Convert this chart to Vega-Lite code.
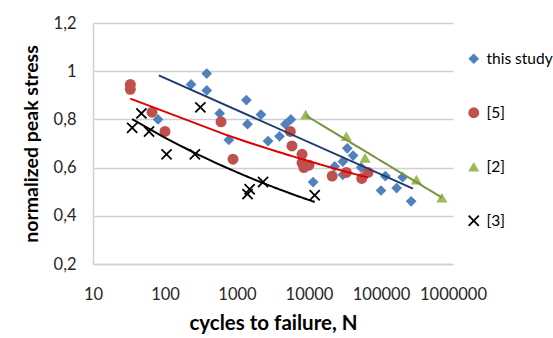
{
  "$schema": "https://vega.github.io/schema/vega-lite/v6.json",
  "width": 360,
  "height": 241,
  "autosize": {"type": "none"},
  "padding": {"left": 93, "top": 23, "right": 100, "bottom": 74},
  "background": "white",
  "config": {
    "font": "Lato",
    "view": {"stroke": null},
    "axis": {"labelFont": "Lato", "titleFont": "Lato", "labelColor": "#262626", "titleColor": "#000000"},
    "legend": {"labelFont": "Lato"}
  },
  "datasets": {
    "pts": [
      {"s": "this study", "N": 80, "v": 0.80},
      {"s": "this study", "N": 230, "v": 0.945},
      {"s": "this study", "N": 380, "v": 0.99},
      {"s": "this study", "N": 380, "v": 0.92},
      {"s": "this study", "N": 575, "v": 0.825},
      {"s": "this study", "N": 770, "v": 0.715},
      {"s": "this study", "N": 1350, "v": 0.88},
      {"s": "this study", "N": 1400, "v": 0.78},
      {"s": "this study", "N": 2150, "v": 0.82},
      {"s": "this study", "N": 2700, "v": 0.71},
      {"s": "this study", "N": 3900, "v": 0.73},
      {"s": "this study", "N": 4700, "v": 0.78},
      {"s": "this study", "N": 5600, "v": 0.80},
      {"s": "this study", "N": 11400, "v": 0.54},
      {"s": "this study", "N": 22700, "v": 0.605},
      {"s": "this study", "N": 29500, "v": 0.625},
      {"s": "this study", "N": 29500, "v": 0.57},
      {"s": "this study", "N": 34000, "v": 0.68},
      {"s": "this study", "N": 41000, "v": 0.65},
      {"s": "this study", "N": 53000, "v": 0.60},
      {"s": "this study", "N": 100000, "v": 0.505},
      {"s": "this study", "N": 115000, "v": 0.565},
      {"s": "this study", "N": 165000, "v": 0.515},
      {"s": "this study", "N": 200000, "v": 0.56},
      {"s": "this study", "N": 262000, "v": 0.46},
      {"s": "[5]", "N": 33, "v": 0.945},
      {"s": "[5]", "N": 33, "v": 0.925},
      {"s": "[5]", "N": 66, "v": 0.83},
      {"s": "[5]", "N": 100, "v": 0.75},
      {"s": "[5]", "N": 600, "v": 0.79},
      {"s": "[5]", "N": 880, "v": 0.635},
      {"s": "[5]", "N": 5500, "v": 0.75},
      {"s": "[5]", "N": 5800, "v": 0.69},
      {"s": "[5]", "N": 8000, "v": 0.655},
      {"s": "[5]", "N": 8000, "v": 0.62},
      {"s": "[5]", "N": 8500, "v": 0.60},
      {"s": "[5]", "N": 10000, "v": 0.61},
      {"s": "[5]", "N": 21000, "v": 0.565},
      {"s": "[5]", "N": 33000, "v": 0.58},
      {"s": "[5]", "N": 54000, "v": 0.555},
      {"s": "[5]", "N": 66000, "v": 0.58},
      {"s": "[2]", "N": 9000, "v": 0.82},
      {"s": "[2]", "N": 33000, "v": 0.73},
      {"s": "[2]", "N": 60000, "v": 0.64},
      {"s": "[2]", "N": 310000, "v": 0.55},
      {"s": "[2]", "N": 700000, "v": 0.475},
      {"s": "[3]", "N": 35, "v": 0.765},
      {"s": "[3]", "N": 47, "v": 0.825},
      {"s": "[3]", "N": 60, "v": 0.75},
      {"s": "[3]", "N": 105, "v": 0.655},
      {"s": "[3]", "N": 260, "v": 0.655},
      {"s": "[3]", "N": 310, "v": 0.85},
      {"s": "[3]", "N": 1400, "v": 0.49},
      {"s": "[3]", "N": 1500, "v": 0.51},
      {"s": "[3]", "N": 2300, "v": 0.54},
      {"s": "[3]", "N": 12000, "v": 0.485}
    ],
    "blueTrend": [
      {"N": 82, "v": 0.983},
      {"N": 278000, "v": 0.513}
    ]
  },
  "data": {"name": "pts"},
  "layer": [
    {
      "mark": {"type": "point", "filled": true, "opacity": 1},
      "encoding": {
        "x": {
          "field": "N", "type": "quantitative",
          "scale": {"type": "log", "domain": [10, 1000000]},
          "axis": {
            "values": [10, 100, 1000, 10000, 100000, 1000000],
            "labelExpr": "format(datum.value, 'd')",
            "labelOverlap": false, "labelBound": false, "labelFlush": false,
            "grid": false, "ticks": false,
            "domainColor": "#D0D0D0", "domainWidth": 1.5,
            "labelFontSize": 16.5, "labelPadding": 22,
            "title": "cycles to failure, N", "titleFontSize": 20.5, "titleFontWeight": "bold", "titlePadding": 11
          }
        },
        "y": {
          "field": "v", "type": "quantitative",
          "scale": {"domain": [0.2, 1.2], "nice": false, "zero": false},
          "axis": {
            "values": [0.2, 0.4, 0.6, 0.8, 1.0, 1.2],
            "labelExpr": "datum.value == 1 ? '1' : replace(format(datum.value, '.1f'), '.', ',')",
            "grid": true, "gridColor": "#D0D0D0", "gridWidth": 1.5,
            "ticks": false, "domainColor": "#D0D0D0", "domainWidth": 1.5,
            "labelFontSize": 16.5, "labelPadding": 17,
            "title": "normalized peak stress", "titleFontSize": 19.5, "titleFontWeight": "bold", "titlePadding": 12
          }
        },
        "color": {
          "field": "s", "type": "nominal",
          "scale": {"domain": ["this study", "[5]", "[2]", "[3]"], "range": ["#4F81BD", "#C0504D", "#9BBB59", "#000000"]},
          "legend": {
            "title": null, "orient": "none", "legendX": 373, "legendY": 28,
            "rowPadding": 37, "labelFontSize": 15.5, "labelColor": "#000000", "symbolSize": 100, "labelOffset": 5, "padding": 0
          }
        },
        "shape": {
          "field": "s", "type": "nominal",
          "scale": {"domain": ["this study", "[5]", "[2]", "[3]"], "range": ["diamond", "circle", "triangle-up", "M-1,-0.78L-0.78,-1L0,-0.22L0.78,-1L1,-0.78L0.22,0L1,0.78L0.78,1L0,0.22L-0.78,1L-1,0.78L-0.22,0Z"]}
        },
        "size": {
          "field": "s", "type": "nominal", "legend": null,
          "scale": {"domain": ["this study", "[5]", "[2]", "[3]"], "range": [115, 130, 135, 165]}
        }
      }
    },
    {
      "data": {"name": "blueTrend"},
      "mark": {"type": "line", "color": "#1F3C6E", "strokeWidth": 2},
      "encoding": {"x": {"field": "N", "type": "quantitative"}, "y": {"field": "v", "type": "quantitative"}}
    },
    {
      "transform": [
        {"filter": "datum.s == '[5]'"},
        {"regression": "v", "on": "N", "method": "pow"}
      ],
      "mark": {"type": "line", "color": "#E00000", "strokeWidth": 2},
      "encoding": {"x": {"field": "N", "type": "quantitative"}, "y": {"field": "v", "type": "quantitative"}}
    },
    {
      "transform": [
        {"filter": "datum.s == '[2]'"},
        {"regression": "v", "on": "N", "method": "log"}
      ],
      "mark": {"type": "line", "color": "#77933C", "strokeWidth": 2},
      "encoding": {"x": {"field": "N", "type": "quantitative"}, "y": {"field": "v", "type": "quantitative"}}
    },
    {
      "transform": [
        {"filter": "datum.s == '[3]'"},
        {"regression": "v", "on": "N", "method": "pow"}
      ],
      "mark": {"type": "line", "color": "#000000", "strokeWidth": 2},
      "encoding": {"x": {"field": "N", "type": "quantitative"}, "y": {"field": "v", "type": "quantitative"}}
    }
  ]
}
